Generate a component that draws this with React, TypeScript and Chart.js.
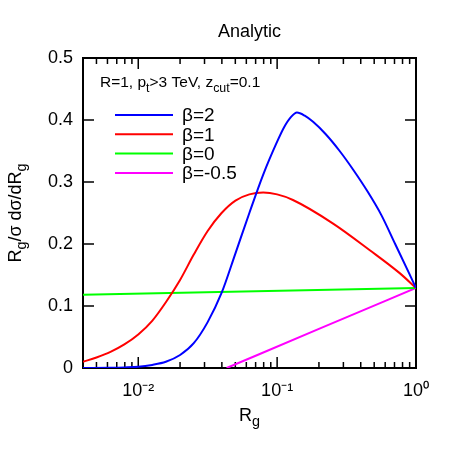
import React, { useEffect, useRef } from 'react';
import { Chart, registerables } from 'chart.js';

Chart.register(...registerables);

const FONT = '"Liberation Sans", Arial, Helvetica, sans-serif';

const TITLE = 'Analytic';
const X_MIN = 0.004;
const X_MAX = 1;
const X_TICKS = [0.01, 0.1, 1];
const X_TICK_LABELS = ['10⁻²', '10⁻¹', '10⁰'];
const X_MINOR = [
  0.005, 0.006, 0.007, 0.008, 0.009,
  0.02, 0.03, 0.04, 0.05, 0.06, 0.07, 0.08, 0.09,
  0.2, 0.3, 0.4, 0.5, 0.6, 0.7, 0.8, 0.9,
];
const Y_MIN = 0;
const Y_MAX = 0.5;
const Y_STEP = 0.1;

const SERIES_LABELS = ['β=2', 'β=1', 'β=0', 'β=-0.5'];
const SERIES_COLORS = ['#0000ff', '#ff0000', '#00ff00', '#ff00ff'];

const beta2X = [0.004, 0.00631, 0.00794, 0.01, 0.0126, 0.0158, 0.02, 0.0251, 0.0316, 0.0398, 0.0501, 0.0631, 0.0794, 0.1, 0.112, 0.126, 0.139, 0.158, 0.1815, 0.224, 0.282, 0.355, 0.447, 0.562, 0.708, 0.891, 1.0];
const beta2Y = [0.0, 0.0005, 0.001, 0.002, 0.005, 0.010, 0.021, 0.040, 0.074, 0.121, 0.185, 0.250, 0.312, 0.365, 0.388, 0.405, 0.412, 0.407, 0.397, 0.377, 0.350, 0.319, 0.285, 0.247, 0.200, 0.153, 0.129];

const beta1X = [0.004, 0.005, 0.00631, 0.00794, 0.01, 0.0126, 0.0158, 0.02, 0.0251, 0.0316, 0.0398, 0.0501, 0.0631, 0.0794, 0.1, 0.13, 0.253, 0.465, 0.763, 1.0];
const beta1Y = [0.010, 0.017, 0.026, 0.038, 0.054, 0.076, 0.106, 0.142, 0.183, 0.221, 0.250, 0.270, 0.280, 0.283, 0.280, 0.271, 0.233, 0.190, 0.153, 0.129];

const beta0X = [0.004, 1.0];
const beta0Y = [0.118, 0.129];

const betaM05X = [0.0433, 0.2, 1.0];
const betaM05Y = [0.0, 0.063, 0.129];

const SERIES_X = [beta2X, beta1X, beta0X, betaM05X];
const SERIES_Y = [beta2Y, beta1Y, beta0Y, betaM05Y];

type Part = { t: string; sub?: boolean };

const Y_TITLE: Part[] = [{ t: 'R' }, { t: 'g', sub: true }, { t: '/σ dσ/dR' }, { t: 'g', sub: true }];
const X_TITLE: Part[] = [{ t: 'R' }, { t: 'g', sub: true }];
const KEY_TITLE: Part[] = [
  { t: 'R=1, p' }, { t: 't', sub: true }, { t: '>3 TeV, z' }, { t: 'cut', sub: true }, { t: '=0.1' },
];

function drawRich(ctx: CanvasRenderingContext2D, parts: Part[], x: number, y: number, size: number, align: 'left' | 'center') {
  let w = 0;
  for (const p of parts) {
    ctx.font = `${p.sub ? size * 0.8 : size}px ${FONT}`;
    w += ctx.measureText(p.t).width;
  }
  let cx = align === 'center' ? x - w / 2 : x;
  ctx.textAlign = 'left';
  ctx.textBaseline = 'alphabetic';
  for (const p of parts) {
    ctx.font = `${p.sub ? size * 0.8 : size}px ${FONT}`;
    ctx.fillText(p.t, cx, p.sub ? y + size * 0.3 : y);
    cx += ctx.measureText(p.t).width;
  }
}

const framePlugin = {
  id: 'gnuFrame',
  beforeDatasetsDraw(chart: any) {
    const { ctx, chartArea: a, scales } = chart;
    const xs = scales.x;
    const ys = scales.y;
    ctx.save();
    ctx.strokeStyle = '#000';
    ctx.lineWidth = 1.5;
    ctx.beginPath();
    const major = 11;
    const minor = 6;
    for (const v of X_TICKS) {
      const px = xs.getPixelForValue(v);
      ctx.moveTo(px, a.bottom); ctx.lineTo(px, a.bottom - major);
      ctx.moveTo(px, a.top); ctx.lineTo(px, a.top + major);
    }
    for (const v of X_MINOR) {
      const px = xs.getPixelForValue(v);
      ctx.moveTo(px, a.bottom); ctx.lineTo(px, a.bottom - minor);
      ctx.moveTo(px, a.top); ctx.lineTo(px, a.top + minor);
    }
    for (let v = Y_MIN + Y_STEP; v < Y_MAX - 1e-9; v += Y_STEP) {
      const py = ys.getPixelForValue(v);
      ctx.moveTo(a.left, py); ctx.lineTo(a.left + major, py);
      ctx.moveTo(a.right, py); ctx.lineTo(a.right - major, py);
    }
    ctx.stroke();
    ctx.lineWidth = 2;
    ctx.strokeRect(a.left, a.top, a.right - a.left, a.bottom - a.top);
    ctx.restore();
  },
  afterDraw(chart: any) {
    const { ctx, chartArea: a } = chart;
    ctx.save();
    ctx.fillStyle = '#000';
    // title
    ctx.font = `18px ${FONT}`;
    ctx.textAlign = 'center';
    ctx.textBaseline = 'alphabetic';
    ctx.fillText(TITLE, (a.left + a.right) / 2, 37);
    // axis titles
    drawRich(ctx, X_TITLE, (a.left + a.right) / 2, 421, 18, 'center');
    ctx.save();
    ctx.translate(21, (a.top + a.bottom) / 2);
    ctx.rotate(-Math.PI / 2);
    drawRich(ctx, Y_TITLE, 0, 0, 18, 'center');
    ctx.restore();
    // key
    drawRich(ctx, KEY_TITLE, 100, 87, 15.5, 'left');
    const rowY = [115, 134.3, 153.6, 172.9];
    chart.data.datasets.forEach((ds: any, i: number) => {
      const y = rowY[i];
      ctx.strokeStyle = ds.borderColor;
      ctx.lineWidth = 2;
      ctx.beginPath();
      ctx.moveTo(115, y);
      ctx.lineTo(173, y);
      ctx.stroke();
      ctx.fillStyle = '#000';
      ctx.font = `19px ${FONT}`;
      ctx.textAlign = 'left';
      ctx.textBaseline = 'middle';
      ctx.fillText(ds.label, 182, y + 1);
    });
    ctx.restore();
  },
};

export default function App() {
  const ref = useRef<HTMLCanvasElement>(null);
  useEffect(() => {
    if (!ref.current) return;
    const datasets = SERIES_LABELS.map((label, i) => ({
      label,
      data: SERIES_X[i].map((x, j) => ({ x, y: SERIES_Y[i][j] })),
      borderColor: SERIES_COLORS[i],
      backgroundColor: SERIES_COLORS[i],
      borderWidth: 2,
      pointRadius: 0,
      showLine: true,
      fill: false,
      cubicInterpolationMode: 'monotone' as const,
    }));
    const chart = new Chart(ref.current, {
      type: 'scatter',
      data: { datasets },
      options: {
        animation: false,
        responsive: false,
        layout: { padding: { left: 0, right: 35, top: 58, bottom: 0 } },
        plugins: {
          legend: { display: false },
          tooltip: { enabled: false },
          title: { display: false },
        },
        scales: {
          x: {
            type: 'logarithmic',
            min: X_MIN,
            max: X_MAX,
            grid: { display: false, drawTicks: false },
            border: { display: false },
            afterBuildTicks: (scale: any) => {
              scale.ticks = X_TICKS.map((v) => ({ value: v }));
            },
            afterFit: (scale: any) => {
              scale.height = 83;
            },
            ticks: {
              autoSkip: false,
              maxRotation: 0,
              minRotation: 0,
              padding: 12,
              color: '#000',
              font: { family: FONT, size: 18 },
              callback: (value: any) => {
                const idx = X_TICKS.findIndex((t) => Math.abs(t - Number(value)) < 1e-12);
                return idx >= 0 ? X_TICK_LABELS[idx] : '';
              },
            },
          },
          y: {
            type: 'linear',
            min: Y_MIN,
            max: Y_MAX,
            grid: { display: false, drawTicks: false },
            border: { display: false },
            afterFit: (scale: any) => {
              scale.width = 83;
            },
            ticks: {
              stepSize: Y_STEP,
              padding: 10,
              color: '#000',
              font: { family: FONT, size: 18 },
              callback: (value: any) => (Number(value) === 0 ? '0' : Number(value).toFixed(1)),
            },
          },
        },
      },
      plugins: [framePlugin],
    });
    return () => chart.destroy();
  }, []);
  return (
    <div style={{ position: 'fixed', left: 0, top: 0, width: 451, height: 451, background: '#fff' }}>
      <canvas ref={ref} width={451} height={451} style={{ width: 451, height: 451 }} />
    </div>
  );
}
